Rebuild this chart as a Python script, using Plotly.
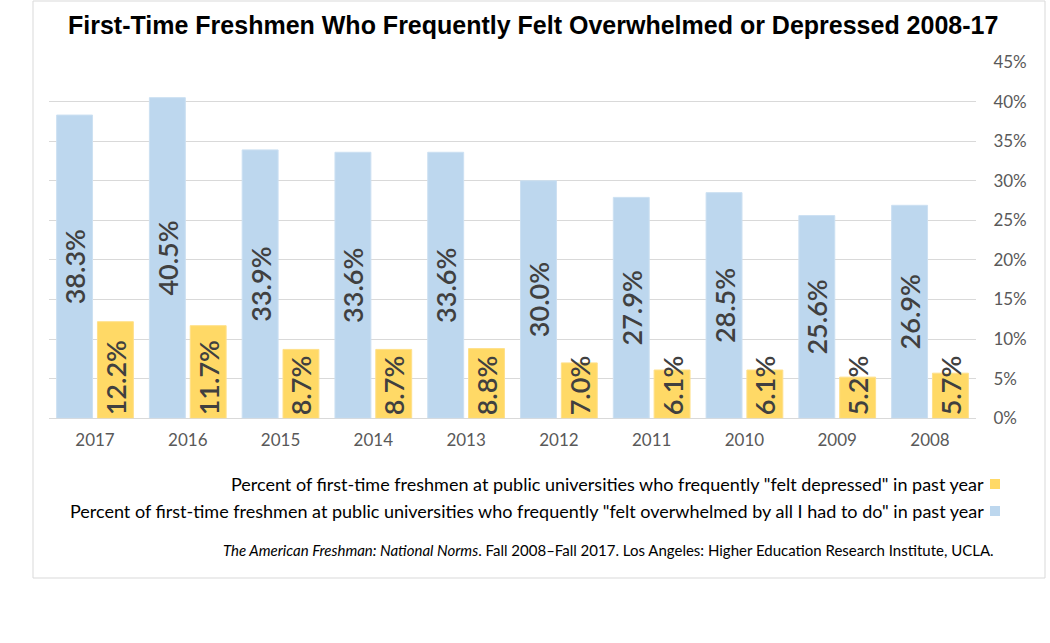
import plotly.graph_objects as go

# ---- data ----
years = ['2008', '2009', '2010', '2011', '2012', '2013', '2014', '2015', '2016', '2017']
depressed = [5.7, 5.2, 6.1, 6.1, 7.0, 8.8, 8.7, 8.7, 11.7, 12.2]
overwhelmed = [26.9, 25.6, 28.5, 27.9, 30.0, 33.6, 33.6, 33.9, 40.5, 38.3]
y_tick_vals = [0, 5, 10, 15, 20, 25, 30, 35, 40, 45]
y_tick_text = ['0%', '5%', '10%', '15%', '20%', '25%', '30%', '35%', '40%', '45%']

name_depressed = 'Percent of first-time freshmen at public universities who frequently "felt depressed" in past year'
name_overwhelmed = ('Percent of first-time freshmen at public universities who frequently '
                    '"felt overwhelmed by all I had to do" in past year')
title_text = 'First-Time Freshmen Who Frequently Felt Overwhelmed or Depressed 2008-17'
source_text = ('<i>The American Freshman: National Norms</i>. Fall 2008\u2013Fall 2017. '
               'Los Angeles: Higher Education Research Institute, UCLA.')

W, H = 1050, 643
YELLOW = '#FFD966'
BLUE = '#BDD7EE'
LABEL_FONT = 'Lato, Carlito, Calibri, sans-serif'


def px(x):
    return x / W


def py(y):
    return (H - y) / H


fig = go.Figure()
fig.add_trace(go.Bar(
    x=years, y=depressed, name=name_depressed, showlegend=False,
    marker=dict(color=YELLOW, line=dict(color='#FFE08A', width=1)),
    text=[f'{v:.1f}%' for v in depressed], textposition='inside',
    insidetextanchor='start', textangle=-90, constraintext='none',
    textfont=dict(family=LABEL_FONT, size=27, color='#404040', weight=600),
    hoverinfo='skip',
))
fig.add_trace(go.Bar(
    x=years, y=overwhelmed, name=name_overwhelmed, showlegend=False,
    marker=dict(color=BLUE, line=dict(color='#CCE0F2', width=1)),
    text=[f'{v:.1f}%' for v in overwhelmed], textposition='inside',
    insidetextanchor='middle', textangle=-90, constraintext='none',
    textfont=dict(family=LABEL_FONT, size=27, color='#404040', weight=600),
    hoverinfo='skip',
))

shapes = [
    dict(type='rect', xref='paper', yref='paper', x0=px(33), x1=px(1045), y0=py(578), y1=py(1),
         line=dict(color='#D9D9D9', width=1), fillcolor='rgba(0,0,0,0)', layer='below'),
    dict(type='rect', xref='paper', yref='paper', x0=px(990), x1=px(1000), y0=py(489), y1=py(479),
         line=dict(width=0), fillcolor=YELLOW),
    dict(type='rect', xref='paper', yref='paper', x0=px(990), x1=px(1000), y0=py(516), y1=py(506),
         line=dict(width=0), fillcolor=BLUE),
]

annotations = [
    dict(text=f'<b>{title_text}</b>', xref='paper', yref='paper', x=px(533), y=py(25),
         xanchor='center', yanchor='middle', showarrow=False,
         font=dict(family='Liberation Sans, Arial, sans-serif', size=25, color='#000000')),
    dict(text=name_depressed, xref='paper', yref='paper', x=px(986), y=py(484),
         xanchor='right', yanchor='middle', showarrow=False,
         font=dict(family=LABEL_FONT, size=18, color='#000000')),
    dict(text=name_overwhelmed, xref='paper', yref='paper', x=px(986), y=py(511),
         xanchor='right', yanchor='middle', showarrow=False,
         font=dict(family=LABEL_FONT, size=18, color='#000000')),
    dict(text=source_text, xref='paper', yref='paper', x=px(996), y=py(550),
         xanchor='right', yanchor='middle', showarrow=False,
         font=dict(family=LABEL_FONT, size=15, color='#000000')),
]

fig.update_layout(
    width=W, height=H,
    margin=dict(l=0, r=0, t=0, b=0, autoexpand=False),
    paper_bgcolor='white', plot_bgcolor='white',
    barmode='group', bargap=0.12, bargroupgap=0.12,
    showlegend=False,
    shapes=shapes, annotations=annotations,
    xaxis=dict(
        domain=[px(48.6), px(976.4)], autorange='reversed', type='category',
        showgrid=False, showline=False, ticks='', zeroline=False, automargin=False,
        ticklabelstandoff=10,
        tickfont=dict(family=LABEL_FONT, size=17, color='#595959'),
    ),
    yaxis=dict(
        domain=[py(418.3), py(62)], range=[0, 45], side='right', automargin=False,
        tickvals=y_tick_vals, ticktext=y_tick_text,
        showgrid=True, gridcolor='#D9D9D9', gridwidth=1,
        zeroline=True, zerolinecolor='#D9D9D9', zerolinewidth=1,
        showline=False, ticks='', ticklabelstandoff=16,
        tickfont=dict(family=LABEL_FONT, size=17, color='#595959'),
    ),
)

fig.write_html('out.html')
